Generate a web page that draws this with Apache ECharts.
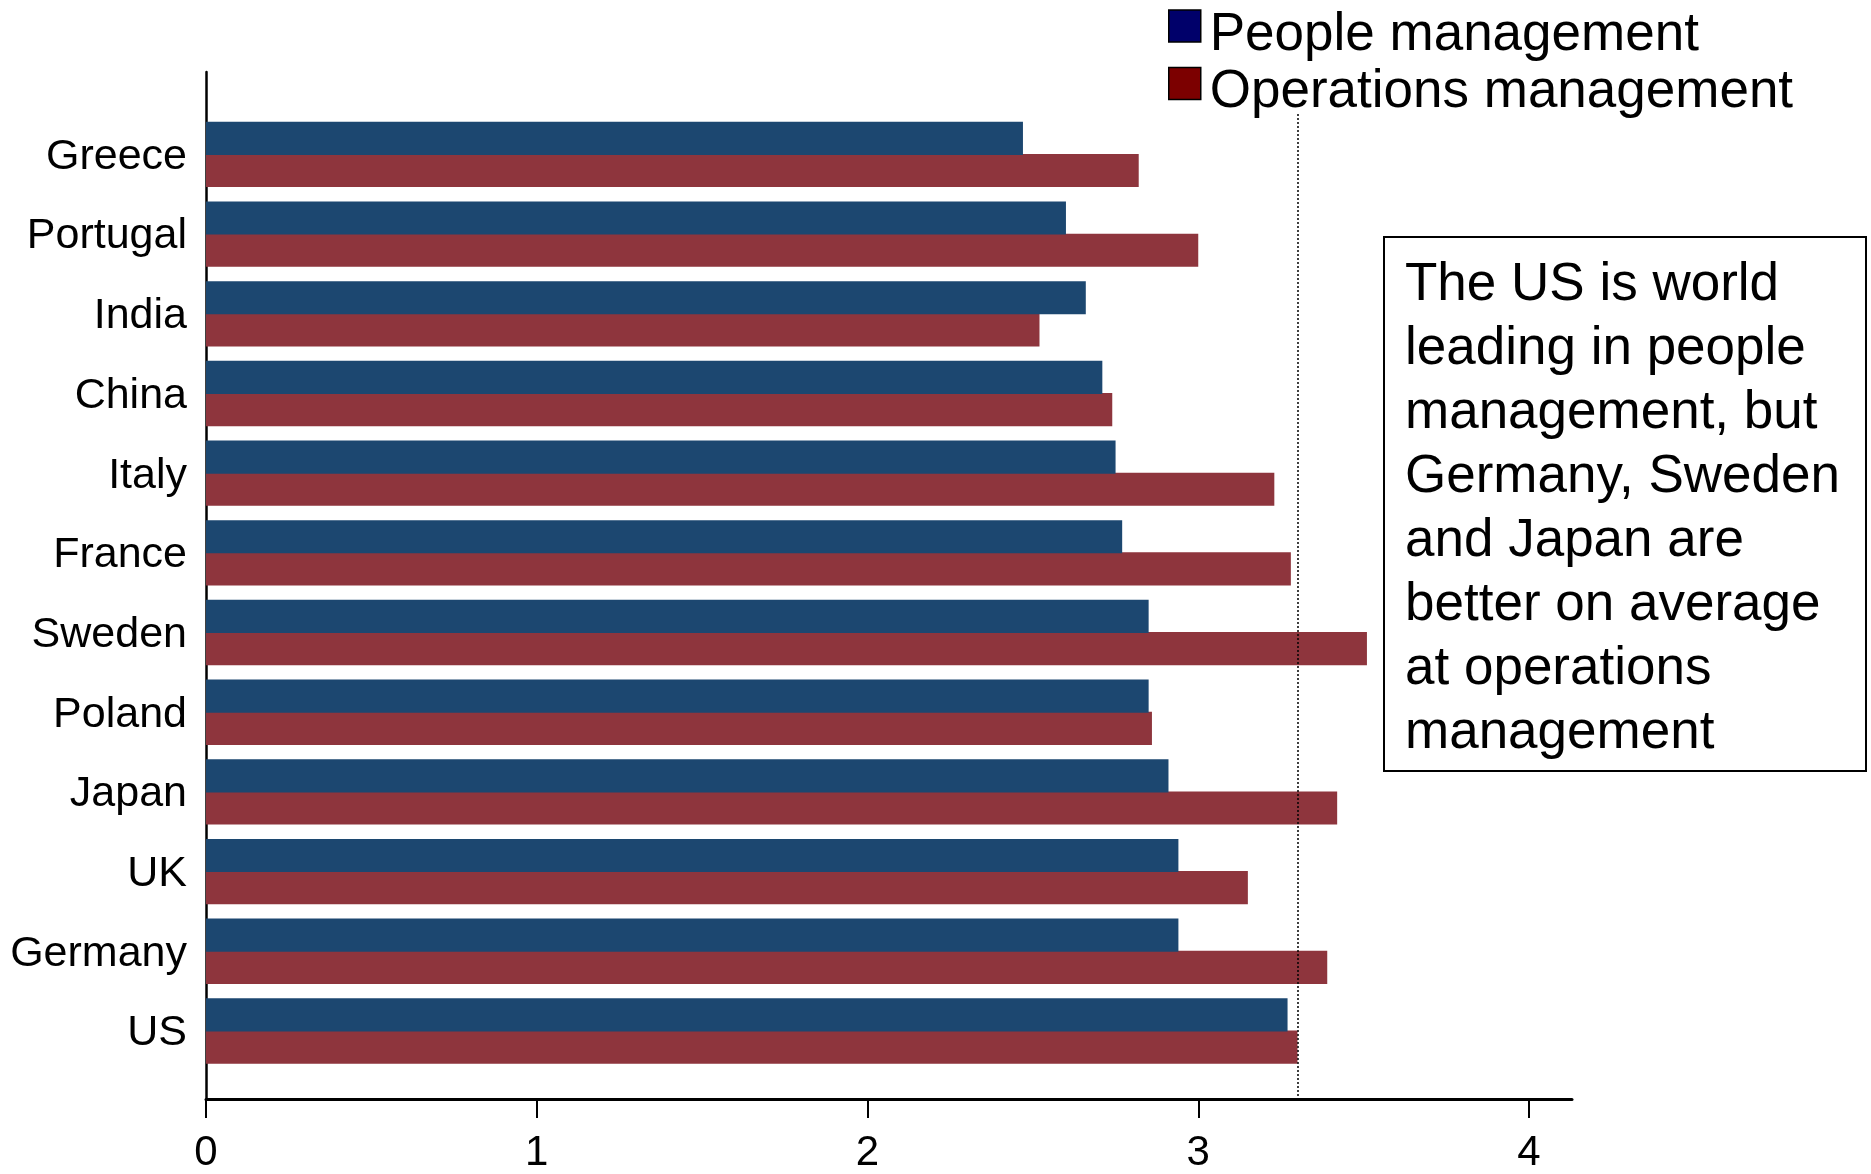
<!DOCTYPE html>
<html>
<head>
<meta charset="utf-8">
<script src="https://cdn.jsdelivr.net/npm/echarts@6/dist/echarts.min.js"></script>
<style>
  html, body { margin: 0; padding: 0; background: #fff; }
  #chart { width: 1871px; height: 1174px; }
</style>
</head>
<body>
<div id="chart"></div>
<script>
// Management practice scores by country
const countries = ['Greece', 'Portugal', 'India', 'China', 'Italy', 'France',
                   'Sweden', 'Poland', 'Japan', 'UK', 'Germany', 'US'];
const peopleMgmt = [2.47, 2.60, 2.66, 2.71, 2.75, 2.77, 2.85, 2.85, 2.91, 2.94, 2.94, 3.27];
const operationsMgmt = [2.82, 3.00, 2.52, 2.74, 3.23, 3.28, 3.51, 2.86, 3.42, 3.15, 3.39, 3.30];
const xTicks = [0, 1, 2, 3, 4];
const seriesNames = ['People management', 'Operations management'];
const noteText = 'The US is world\nleading in people\nmanagement, but\nGermany, Sweden\nand Japan are\nbetter on average\nat operations\nmanagement';

// reference line at the US operations score
const usOps = operationsMgmt[countries.indexOf('US')];

const FONT = '"Liberation Sans", Arial, Helvetica, sans-serif';
const X_MAX = 4.13;
const LINE_TOP = 0.959; // where the dotted reference line starts, as a share of the axis frame height

const chart = echarts.init(document.getElementById('chart'), null, { renderer: 'canvas' });

chart.setOption({
  backgroundColor: '#ffffff',
  animation: false,
  textStyle: { fontFamily: FONT },
  legend: {
    orient: 'vertical',
    left: 1168,
    top: -9.5,
    padding: 0,
    itemWidth: 32,
    itemHeight: 32,
    itemGap: -13.5,
    selectedMode: false,
    formatter: '{t|{name}}',
    textStyle: {
      fontSize: 53, color: '#000', fontFamily: FONT,
      rich: { t: { fontSize: 53, lineHeight: 53, color: '#000', fontFamily: FONT, padding: [18, 0, 0, 4] } }
    },
    data: [
      { name: seriesNames[0], icon: 'rect', itemStyle: { color: '#00006a', borderColor: '#000', borderWidth: 1.5 } },
      { name: seriesNames[1], icon: 'rect', itemStyle: { color: '#7c0000', borderColor: '#000', borderWidth: 1.5 } }
    ]
  },
  grid: [
    // frame holding the axis lines and tick labels
    { left: 206, right: 299, top: 72, bottom: 69, containLabel: false },
    // frame holding the bars
    { left: 206, right: 299, top: 114.6, bottom: 103.2, containLabel: false }
  ],
  xAxis: [
    {
      gridIndex: 0, type: 'value', min: 0, max: X_MAX,
      axisLine: { show: true, onZero: false, lineStyle: { color: '#000', width: 3 } },
      axisTick: { show: true, customValues: xTicks, length: 19, lineStyle: { color: '#000', width: 2 } },
      axisLabel: { show: true, customValues: xTicks, fontSize: 42, color: '#000', margin: 33, fontFamily: FONT },
      splitLine: { show: false }
    },
    {
      gridIndex: 1, type: 'value', min: 0, max: X_MAX, show: false,
      splitLine: { show: false }
    }
  ],
  yAxis: [
    {
      gridIndex: 0, type: 'value', min: 0, max: 1,
      axisLine: { show: true, onZero: false, lineStyle: { color: '#000', width: 2.5 } },
      axisTick: { show: false }, axisLabel: { show: false }, splitLine: { show: false }
    },
    {
      gridIndex: 1, type: 'category', data: countries, inverse: true,
      axisLine: { show: false }, axisTick: { show: false },
      axisLabel: {
        fontSize: 43, color: '#000', margin: 19, fontFamily: FONT,
        formatter: '{c|{value}}',
        rich: { c: { fontSize: 43, color: '#000', fontFamily: FONT, padding: [5, 0, 0, 0] } }
      },
      splitLine: { show: false }
    }
  ],
  series: [
    {
      name: seriesNames[0], type: 'bar', xAxisIndex: 1, yAxisIndex: 1,
      data: peopleMgmt,
      barCategoryGap: '18%', barGap: '-3%',
      itemStyle: { color: '#1c4770' },
      z: 3
    },
    {
      name: seriesNames[1], type: 'bar', xAxisIndex: 1, yAxisIndex: 1,
      data: operationsMgmt,
      barCategoryGap: '18%', barGap: '-3%',
      itemStyle: { color: '#8e353d' },
      z: 2
    },
    {
      // carrier for the dotted US operations reference line
      type: 'line', xAxisIndex: 0, yAxisIndex: 0, data: [], silent: true,
      markLine: {
        silent: true, symbol: ['none', 'none'], label: { show: false },
        lineStyle: { type: [2, 2], color: '#000', width: 1.5 },
        data: [[{ coord: [usOps, LINE_TOP] }, { coord: [usOps, 0] }]]
      }
    }
  ],
  graphic: [
    {
      type: 'group', left: 1383, top: 236,
      children: [
        {
          type: 'rect', shape: { x: 0, y: 0, width: 482, height: 534 },
          style: { fill: '#fff', stroke: '#000', lineWidth: 2 }
        },
        {
          type: 'text', x: 21, y: 16,
          style: { text: noteText, font: '53px ' + FONT, lineHeight: 64, fill: '#000', verticalAlign: 'top' }
        }
      ]
    }
  ]
});
</script>
</body>
</html>
